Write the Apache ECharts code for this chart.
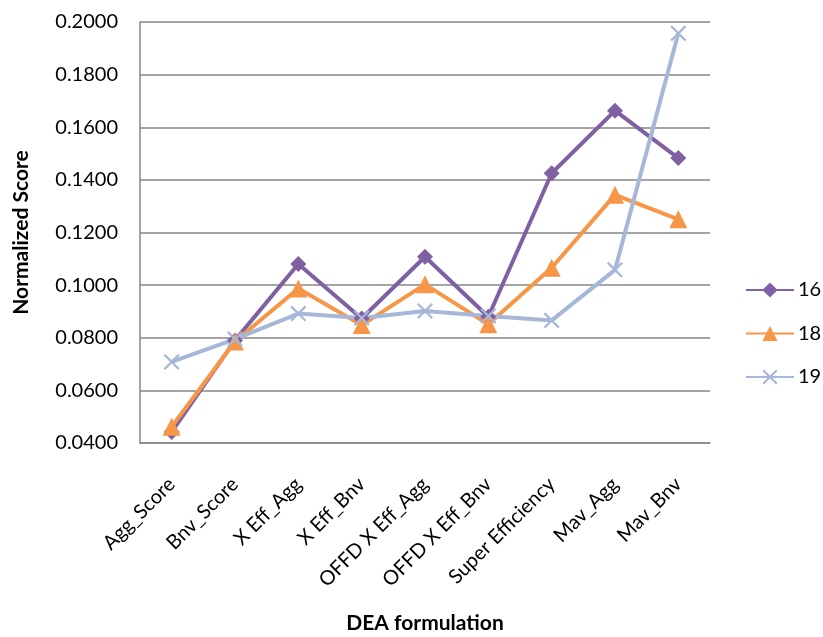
<!DOCTYPE html>
<html>
<head>
<meta charset="utf-8">
<script src="https://cdn.jsdelivr.net/npm/echarts@6/dist/echarts.min.js"></script>
<style>
  html, body { margin: 0; padding: 0; background: #ffffff; }
  #chart { width: 823px; height: 637px; }
</style>
</head>
<body>
<div id="chart"></div>
<script>
// DEA formulations on the category axis
const categories = ['Agg_Score', 'Bnv_Score', 'X Eff_Agg', 'X Eff_Bnv', 'OFFD X Eff_Agg',
  'OFFD X Eff_Bnv', 'Super Efficiency', 'Mav_Agg', 'Mav_Bnv'];

// Normalized scores per series
const series16 = [0.0442, 0.0790, 0.1080, 0.0873, 0.1108, 0.0880, 0.1425, 0.1663, 0.1483];
const series18 = [0.0462, 0.0786, 0.0987, 0.0848, 0.1003, 0.0851, 0.1066, 0.1343, 0.1250];
const series19 = [0.0708, 0.0795, 0.0892, 0.0875, 0.0902, 0.0883, 0.0866, 0.1058, 0.1957];

const seriesNames = ['16', '18', '19'];

// Y axis range and step
const yMin = 0.04;
const yMax = 0.20;
const yStep = 0.02;

const FONT = 'Lato';
const crossPath = 'path://M0,1 L1,0 L5,4 L9,0 L10,1 L6,5 L10,9 L9,10 L5,6 L1,10 L0,9 L4,5 Z';

const chart = echarts.init(document.getElementById('chart'), null, { renderer: 'canvas' });

function lineSeries(name, data, color, symbol, size) {
  return {
    name: name,
    type: 'line',
    data: data,
    symbol: symbol,
    symbolSize: size,
    showAllSymbol: true,
    lineStyle: { color: color, width: 4 },
    itemStyle: { color: color },
    emphasis: { disabled: true },
    z: 2
  };
}

chart.setOption({
  animation: false,
  backgroundColor: '#ffffff',
  textStyle: { fontFamily: FONT },
  grid: { left: 140, right: 113, top: 22, bottom: 194, containLabel: false, outerBoundsMode: 'none' },
  legend: {
    orient: 'vertical',
    left: 740,
    top: 275,
    itemWidth: 48,
    itemHeight: 19,
    itemGap: 23.5,
    textStyle: { fontFamily: FONT, fontSize: 20, color: '#000000', padding: [0, 0, 0, -1] },
    data: seriesNames
  },
  xAxis: {
    type: 'category',
    data: categories,
    boundaryGap: true,
    name: 'DEA formulation',
    nameLocation: 'middle',
    nameGap: 170,
    nameTextStyle: { fontFamily: FONT, fontSize: 21, fontWeight: 'bold', color: '#000000' },
    axisLine: { show: true, lineStyle: { color: '#868686', width: 1.5 } },
    axisTick: { show: false },
    axisLabel: {
      rotate: 45,
      margin: 38,
      interval: 0,
      fontFamily: FONT,
      fontSize: 20,
      color: '#000000'
    },
    splitLine: { show: false }
  },
  yAxis: {
    type: 'value',
    min: yMin,
    max: yMax,
    interval: yStep,
    name: 'Normalized Score',
    nameLocation: 'middle',
    nameGap: 108,
    nameRotate: 90,
    nameTextStyle: { fontFamily: FONT, fontSize: 21, fontWeight: 'bold', color: '#000000' },
    axisLine: { show: true, lineStyle: { color: '#868686', width: 1.5 } },
    axisTick: { show: false },
    axisLabel: {
      margin: 22,
      fontFamily: FONT,
      fontSize: 20,
      color: '#000000',
      formatter: v => v.toFixed(4)
    },
    splitLine: { show: true, lineStyle: { color: '#868686', width: 1.5 } }
  },
  series: [
    lineSeries(seriesNames[0], series16, '#7f60a3', 'diamond', 16),
    lineSeries(seriesNames[1], series18, '#f79646', 'triangle', 18),
    lineSeries(seriesNames[2], series19, '#a6b7d7', crossPath, 16)
  ]
});
</script>
</body>
</html>
